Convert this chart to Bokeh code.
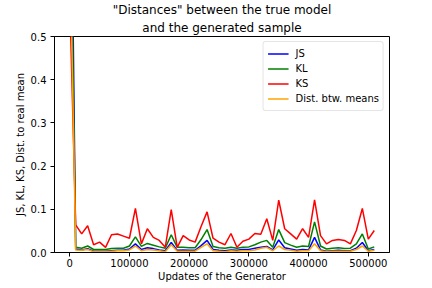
from bokeh.plotting import figure
from bokeh.models import (Range1d, FixedTicker, PrintfTickFormatter, Legend, LegendItem,
                          ColumnDataSource, Title)
from bokeh.embed import file_html
from bokeh.resources import INLINE

updates = [i * 10000 for i in range(52)]
js = [1.2, 0.008, 0.006, 0.009, 0.003, 0.003, 0.003, 0.004, 0.005, 0.005, 0.008, 0.020,
      0.007, 0.011, 0.009, 0.006, 0.004, 0.023, 0.005, 0.006, 0.005, 0.005, 0.016, 0.028,
      0.007, 0.005, 0.004, 0.006, 0.005, 0.007, 0.007, 0.010, 0.012, 0.014, 0.006, 0.029,
      0.011, 0.008, 0.005, 0.007, 0.006, 0.035, 0.006, 0.003, 0.004, 0.005, 0.004, 0.004,
      0.010, 0.023, 0.004, 0.007]
kl = [0.95, 0.012, 0.010, 0.015, 0.007, 0.007, 0.007, 0.009, 0.010, 0.010, 0.015, 0.036,
      0.014, 0.021, 0.017, 0.013, 0.010, 0.041, 0.012, 0.012, 0.011, 0.011, 0.030, 0.053,
      0.014, 0.011, 0.010, 0.012, 0.010, 0.012, 0.013, 0.018, 0.024, 0.028, 0.012, 0.053,
      0.023, 0.017, 0.012, 0.015, 0.014, 0.071, 0.015, 0.008, 0.010, 0.011, 0.009, 0.010,
      0.020, 0.043, 0.008, 0.013]
ks = [0.59, 0.064, 0.043, 0.062, 0.018, 0.024, 0.012, 0.041, 0.043, 0.038, 0.033, 0.102,
      0.020, 0.055, 0.035, 0.028, 0.012, 0.099, 0.012, 0.039, 0.029, 0.024, 0.060, 0.094,
      0.033, 0.024, 0.018, 0.044, 0.012, 0.026, 0.031, 0.044, 0.042, 0.078, 0.028, 0.121,
      0.055, 0.043, 0.031, 0.055, 0.035, 0.122, 0.039, 0.020, 0.028, 0.030, 0.028, 0.020,
      0.051, 0.102, 0.031, 0.051]
mean_dist = [0.75, 0.006, 0.005, 0.007, 0.002, 0.002, 0.002, 0.003, 0.004, 0.004, 0.006, 0.015,
             0.004, 0.007, 0.006, 0.004, 0.002, 0.018, 0.003, 0.003, 0.003, 0.003, 0.012, 0.020,
             0.004, 0.003, 0.002, 0.004, 0.003, 0.004, 0.004, 0.006, 0.010, 0.012, 0.004, 0.015,
             0.007, 0.005, 0.003, 0.004, 0.004, 0.020, 0.004, 0.002, 0.003, 0.003, 0.003, 0.003,
             0.007, 0.015, 0.003, 0.005]

series_names = ["JS", "KL", "KS", "Dist. btw. means"]
series_colors = ["blue", "green", "red", "orange"]
x_ticks = [0, 100000, 200000, 300000, 400000, 500000]
y_ticks = [0.0, 0.1, 0.2, 0.3, 0.4, 0.5]
title_lines = ['"Distances" between the true model', "and the generated sample"]

FONT = "DejaVu Sans"

p = figure(width=432, height=288, output_backend="svg", toolbar_location=None,
           x_range=Range1d(-25500, 535500), y_range=Range1d(0, 0.5),
           title=title_lines[0])
p.min_border_left = 54
p.min_border_right = 43
p.min_border_top = 35
p.min_border_bottom = 36

p.title.align = "center"
p.title.text_font = FONT
p.title.text_font_size = "12px"
p.title.text_font_style = "normal"
p.title.text_color = "black"
p.title.standoff = 0

t2 = Title(text=title_lines[1], align="center", text_font=FONT, text_font_size="12px",
           text_font_style="normal", text_color="black", standoff=4)
p.add_layout(t2, "above")

p.xgrid.visible = False
p.ygrid.visible = False
p.outline_line_color = "black"
p.outline_line_width = 1
p.outline_line_alpha = 1
p.background_fill_color = "white"
p.border_fill_color = "white"

for ax in (p.xaxis[0], p.yaxis[0]):
    ax.axis_label_text_font = FONT
    ax.axis_label_text_font_size = "10px"
    ax.axis_label_text_font_style = "normal"
    ax.axis_label_text_color = "black"
    ax.major_label_text_font = FONT
    ax.major_label_text_font_size = "10px"
    ax.major_label_text_color = "black"
    ax.minor_tick_line_color = None
    ax.major_tick_out = 4
    ax.major_tick_in = 0
    ax.major_tick_line_color = "black"
    ax.axis_line_color = "black"

p.xaxis.major_label_standoff = 2
p.xaxis.axis_label_standoff = 1
p.yaxis.major_label_standoff = 4
p.yaxis.axis_label_standoff = 2

p.xaxis.ticker = FixedTicker(ticks=x_ticks)
p.xaxis.formatter = PrintfTickFormatter(format="%d")
p.yaxis.ticker = FixedTicker(ticks=y_ticks)
p.yaxis.formatter = PrintfTickFormatter(format="%.1f")
p.xaxis.axis_label = "Updates of the Generator"
p.yaxis.axis_label = "JS, KL, KS, Dist. to real mean"

items = []
for name, vals, col in zip(series_names, [js, kl, ks, mean_dist], series_colors):
    src = ColumnDataSource(dict(x=updates, y=vals))
    r = p.line("x", "y", source=src, line_color=col, line_width=1.5)
    items.append(LegendItem(label=name, renderers=[r]))

legend = Legend(items=items, location="top_right")
legend.margin = 5
legend.padding = 4
legend.spacing = 0
legend.label_height = 15
legend.glyph_height = 15
legend.glyph_width = 21
legend.label_standoff = 7
legend.label_text_font = FONT
legend.label_text_font_size = "10px"
legend.label_text_color = "black"
legend.border_line_color = "#cccccc"
legend.border_line_width = 1
legend.background_fill_alpha = 0.8
legend.border_radius = 3
p.add_layout(legend)

open("out.html", "w").write(file_html(p, INLINE))
